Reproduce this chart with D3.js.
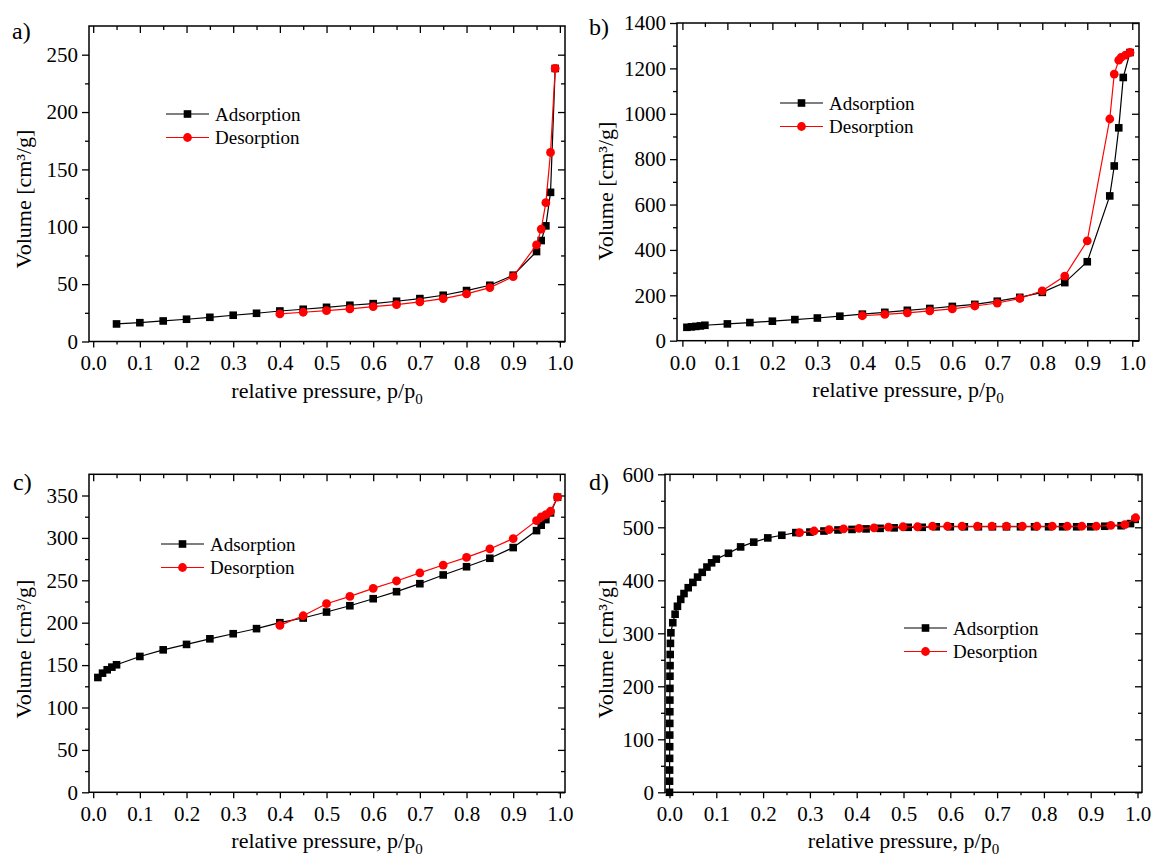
<!DOCTYPE html>
<html>
<head>
<meta charset="utf-8">
<script src="https://cdn.jsdelivr.net/npm/d3@7"></script>
<style>
  body { margin: 0; background: #fff; }
  svg, svg text { font-family: "Liberation Serif", "Times New Roman", serif; }
</style>
</head>
<body>
<svg id="chart" width="1151" height="858"></svg>
<script>
// ---- data (p/p0, volume cm3/g) ----
// panel a
const aAdsP = [0.05,0.10,0.15,0.20,0.25,0.30,0.35,0.40,0.45,0.50,0.55,0.60,0.65,0.70,0.75,0.80,0.85,0.90,0.95,0.96,0.97,0.98,0.99];
const aAdsV = [15.3,16.4,17.9,19.4,21.1,22.9,24.6,26.6,28.1,29.8,31.6,33.0,35.1,37.4,40.3,44.4,49.0,57.8,78.4,88.0,100.8,130.0,238.0];
const aDesP = [0.99,0.98,0.97,0.96,0.95,0.90,0.85,0.80,0.75,0.70,0.65,0.60,0.55,0.50,0.45,0.40];
const aDesV = [238.0,164.8,121.0,98.0,84.2,56.6,47.0,41.5,37.4,34.5,32.1,30.4,28.4,26.9,25.5,24.0];

// panel b
const bAdsP = [0.01,0.02,0.03,0.04,0.05,0.10,0.15,0.20,0.25,0.30,0.35,0.40,0.45,0.50,0.55,0.60,0.65,0.70,0.75,0.80,0.85,0.90,0.95,0.96,0.97,0.98,0.995];
const bAdsV = [59,61,63,65,68,74,80,86,93,100,108,117,125,134,142,151,160,174,191,213,256,348,638,770,938,1160,1270];
const bDesP = [0.995,0.985,0.975,0.97,0.96,0.95,0.90,0.85,0.80,0.75,0.70,0.65,0.60,0.55,0.50,0.45,0.40];
const bDesV = [1270,1258,1248,1236,1175,977,440,285,220,186,166,153,140,131,123,116,110];

// panel c
const cAdsP = [0.01,0.02,0.03,0.04,0.05,0.10,0.15,0.20,0.25,0.30,0.35,0.40,0.45,0.50,0.55,0.60,0.65,0.70,0.75,0.80,0.85,0.90,0.95,0.96,0.97,0.98,0.995];
const cAdsV = [135.4,140.5,144.5,147.6,150.4,160.2,168.0,174.4,181.0,187.0,193.0,200.0,205.5,212.6,220.0,228.3,236.6,246.0,256.3,266.0,276.0,288.6,308.6,315.0,321.6,329.5,348.0];
const cDesP = [0.995,0.98,0.97,0.96,0.95,0.90,0.85,0.80,0.75,0.70,0.65,0.60,0.55,0.50,0.45,0.40];
const cDesV = [348.0,331.4,327.5,324.8,320.4,299.2,287.0,277.0,268.0,258.7,249.2,240.5,231.0,222.4,208.2,196.8];

// panel d
const dAdsP = [0.0000,0.0001,0.0002,0.0003,0.0004,0.0005,0.0006,0.0007,0.0008,0.0009,0.0010,0.0012,0.0015,0.002,0.003,0.007,0.012,0.017,0.024,0.031,0.040,0.050,0.060,0.070,0.080,0.090,0.100,0.126,0.152,0.180,0.210,0.240,0.270,
               0.30,0.33,0.36,0.39,0.42,0.45,0.48,0.51,0.54,0.57,0.60,0.63,0.66,0.69,0.72,0.75,0.78,0.81,0.84,0.87,0.90,0.93,0.965,0.985,0.995];
const dAdsV = [0,21,42,64,86,108,130,152,174,196,219,239,260,281,301,320,336,351,364,375,386,396,406,415,425,433,440,451,463,472,480,485,490,
               491,493,495,496,497,498,499,500,500,501,501,501,501,501,501,501,501,501,501,501,501,502,503,507,515];
const dDesP = [0.996,0.973,0.943,0.912,0.881,0.850,0.818,0.785,0.754,0.720,0.689,0.658,0.625,0.594,0.562,0.530,0.499,0.468,0.437,0.405,0.372,0.341,0.309,0.278];
const dDesV = [518,505,503.5,502,502,502,502,502,502,502,502,502,502,502,502,501,501,500.5,499,498,497,495.6,493,490];

const panelLabels = ["a)", "b)", "c)", "d)"];
const seriesNames = ["Adsorption", "Desorption"];
const xTickValues = d3.range(11).map(i => i / 10);
const xMinorValues = d3.range(10).map(i => (2 * i + 1) / 20);

// ---- layout ----
const panels = [
  { label: panelLabels[0], ads: [aAdsP, aAdsV], des: [aDesP, aDesV],
    left: 89, right: 565, top: 26, bottom: 341.5, xDom: [-0.009, 1.011], yDom: [0, 275], yStep: 50,
    lab: [12, 39], yTitle: [31, 199], leg: [166, 114] },
  { label: panelLabels[1], ads: [bAdsP, bAdsV], des: [bDesP, bDesV],
    left: 677, right: 1139, top: 23, bottom: 340.7, xDom: [-0.012, 1.015], yDom: [0, 1400], yStep: 200,
    lab: [589, 35], yTitle: [613, 191], leg: [780, 103] },
  { label: panelLabels[2], ads: [cAdsP, cAdsV], des: [cDesP, cDesV],
    left: 89, right: 565, top: 474.3, bottom: 792.3, xDom: [-0.009, 1.011], yDom: [0, 375], yStep: 50,
    lab: [13, 490], yTitle: [31, 649], leg: [161, 544] },
  { label: panelLabels[3], ads: [dAdsP, dAdsV], des: [dDesP, dDesV],
    left: 665, right: 1142, top: 474.3, bottom: 792.3, xDom: [-0.0096, 1.0096], yDom: [0, 600], yStep: 100,
    lab: [589, 490], yTitle: [613, 649], leg: [904, 628] }
];

const svg = d3.select("#chart");
const adsColor = "#000000", desColor = "#ff0000";
const serif = '"Liberation Serif", "Times New Roman", serif';

// strip d3's default axis styling (sans-serif 10px) and the domain path
function cleanAxis(g) {
  g.select(".domain").remove();
  g.attr("font-family", null).attr("font-size", null);
}

function drawMarkers(g, pts, kind, color, x, y) {
  if (kind === "square") {
    g.selectAll(null).data(pts).join("rect")
      .attr("x", d => x(d[0]) - 3.8).attr("y", d => y(d[1]) - 3.8)
      .attr("width", 7.6).attr("height", 7.6)
      .attr("fill", color);
  } else {
    g.selectAll(null).data(pts).join("circle")
      .attr("cx", d => x(d[0])).attr("cy", d => y(d[1]))
      .attr("r", 4.4)
      .attr("fill", color);
  }
}

function drawPanel(p) {
  const g = svg.append("g");
  const x = d3.scaleLinear().domain(p.xDom).range([p.left, p.right]);
  const y = d3.scaleLinear().domain(p.yDom).range([p.bottom, p.top]);
  const yMajor = d3.range(0, p.yDom[1] + 1e-6, p.yStep);
  const yMinor = d3.range(p.yStep / 2, p.yDom[1], p.yStep);

  // bottom axis (outward)
  g.append("g").attr("transform", `translate(0,${p.bottom})`)
    .call(d3.axisBottom(x).tickValues(xTickValues).tickSize(6).tickPadding(8).tickFormat(d3.format(".1f")))
    .call(cleanAxis);
  g.append("g").attr("transform", `translate(0,${p.bottom})`)
    .call(d3.axisBottom(x).tickValues(xMinorValues).tickSize(3).tickFormat(""))
    .call(cleanAxis);
  // top axis (inward)
  g.append("g").attr("transform", `translate(0,${p.top})`)
    .call(d3.axisBottom(x).tickValues(xTickValues).tickSize(7).tickFormat(""))
    .call(cleanAxis);
  g.append("g").attr("transform", `translate(0,${p.top})`)
    .call(d3.axisBottom(x).tickValues(xMinorValues).tickSize(4).tickFormat(""))
    .call(cleanAxis);
  // left axis (outward)
  g.append("g").attr("transform", `translate(${p.left},0)`)
    .call(d3.axisLeft(y).tickValues(yMajor).tickSize(7).tickPadding(4).tickFormat(d3.format("d")))
    .call(cleanAxis);
  g.append("g").attr("transform", `translate(${p.left},0)`)
    .call(d3.axisLeft(y).tickValues(yMinor).tickSize(4).tickFormat(""))
    .call(cleanAxis);
  // right axis (inward)
  g.append("g").attr("transform", `translate(${p.right},0)`)
    .call(d3.axisLeft(y).tickValues(yMajor).tickSize(7).tickFormat(""))
    .call(cleanAxis);
  g.append("g").attr("transform", `translate(${p.right},0)`)
    .call(d3.axisLeft(y).tickValues(yMinor).tickSize(4).tickFormat(""))
    .call(cleanAxis);

  g.selectAll(".tick line").attr("stroke", "#000").attr("stroke-width", 1.3);
  g.selectAll(".tick text")
    .attr("font-family", serif)
    .style("font-size", "21px").attr("fill", "#000");

  // frame
  g.append("rect")
    .attr("x", p.left).attr("y", p.top)
    .attr("width", p.right - p.left).attr("height", p.bottom - p.top)
    .attr("fill", "none").attr("stroke", "#000").attr("stroke-width", 1.5);

  // data
  const line = d3.line().x(d => x(d[0])).y(d => y(d[1]));
  const ads = d3.zip(p.ads[0], p.ads[1]);
  const des = d3.zip(p.des[0], p.des[1]);

  g.append("path").datum(ads).attr("d", line)
    .attr("fill", "none").attr("stroke", adsColor).attr("stroke-width", 1.2);
  drawMarkers(g.append("g"), ads, "square", adsColor, x, y);
  g.append("path").datum(des).attr("d", line)
    .attr("fill", "none").attr("stroke", desColor).attr("stroke-width", 1.2);
  drawMarkers(g.append("g"), des, "circle", desColor, x, y);

  // legend
  const leg = g.append("g").attr("transform", `translate(${p.leg[0]},${p.leg[1]})`);
  [[adsColor, "square"], [desColor, "circle"]].forEach((s, i) => {
    const row = leg.append("g").attr("transform", `translate(0,${i * 23.5})`);
    row.append("line").attr("x1", 0).attr("x2", 43).attr("y1", 0).attr("y2", 0)
      .attr("stroke", s[0]).attr("stroke-width", 1.2);
    const lx = d3.scaleLinear().domain([0, 1]).range([0, 1]);
    drawMarkers(row, [[21.5, 0]], s[1], s[0], lx, lx);
    row.append("text").attr("x", 49).attr("y", 6.5)
      .style("font-size", "19px").text(seriesNames[i]);
  });

  // axis titles
  const xt = g.append("text")
    .attr("x", (p.left + p.right) / 2).attr("y", p.bottom + 56)
    .attr("text-anchor", "middle").style("font-size", "22px");
  xt.append("tspan").text("relative pressure, p/p");
  xt.append("tspan").attr("dy", 6).style("font-size", "15px").text("0");

  g.append("text")
    .attr("transform", `translate(${p.yTitle[0]},${p.yTitle[1]}) rotate(-90)`)
    .attr("text-anchor", "middle").style("font-size", "22px")
    .text("Volume [cm³/g]");

  // panel label
  g.append("text").attr("x", p.lab[0]).attr("y", p.lab[1])
    .style("font-size", "24px").text(p.label);
}

panels.forEach(drawPanel);
</script>
</body>
</html>
